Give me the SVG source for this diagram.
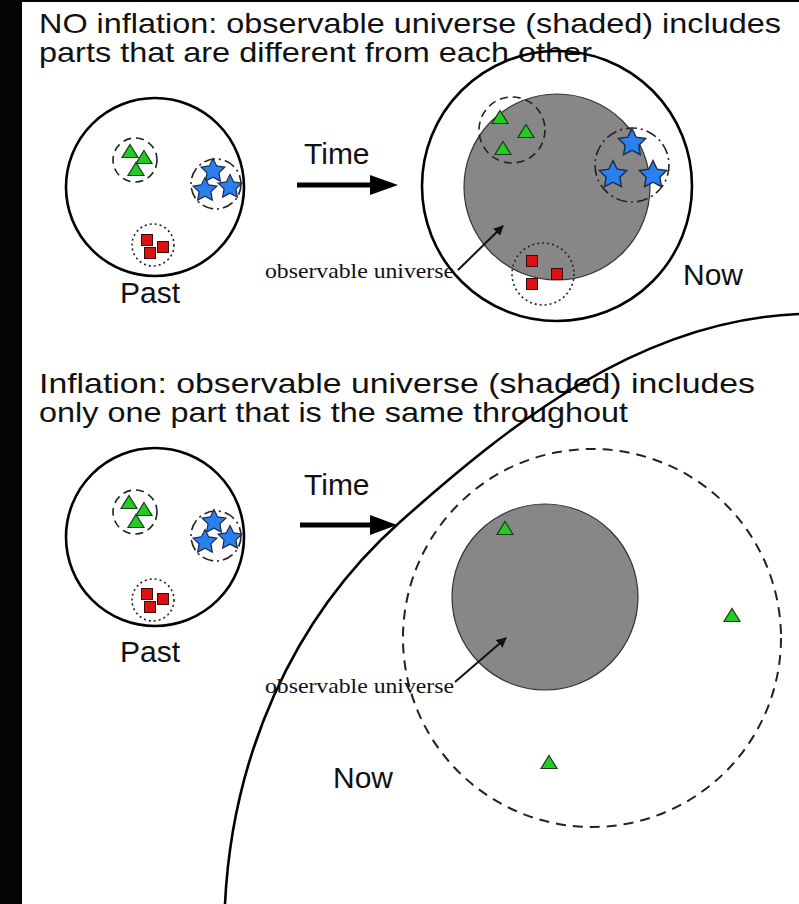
<svg xmlns="http://www.w3.org/2000/svg" width="799" height="904" viewBox="0 0 799 904">
<style>
.title{font-family:"Liberation Sans",Arial,sans-serif;font-size:28px;fill:#111}
.lbl{font-family:"Liberation Sans",Arial,sans-serif;font-size:30px;fill:#111}
.obs{font-family:"Liberation Serif","Times New Roman",serif;font-size:22px;fill:#111}
.big{fill:none;stroke:#000;stroke-width:2.6}
.gdash{fill:none;stroke:#222;stroke-width:1.6;stroke-dasharray:8 5}
.bdash{fill:none;stroke:#222;stroke-width:1.6;stroke-dasharray:11 4 2 4}
.rdot{fill:none;stroke:#222;stroke-width:1.6;stroke-dasharray:2 3}
.ldash{fill:none;stroke:#222;stroke-width:2;stroke-dasharray:10 7}
.disk{fill:#878787;stroke:#333;stroke-width:1.2}
.tri{fill:#22cc22;stroke:#1a3a1a;stroke-width:1.2}
.star{fill:#2a80f0;stroke:#1a2a44;stroke-width:1.2}
.sq{fill:#dd1111;stroke:#3a0a0a;stroke-width:1}
.thick{stroke:#000;stroke-width:5;fill:none}
.thin{stroke:#111;stroke-width:2;fill:none}
</style>
<defs>
<path id="tri" d="M0,-7.5 L8,5.5 L-8,5.5 Z"/>
<path id="star" d="M0,-12.5 L3.67,-5.05 L11.89,-3.86 L5.94,1.93 L7.35,10.11 L0,6.25 L-7.35,10.11 L-5.94,1.93 L-11.89,-3.86 L-3.67,-5.05 Z"/>
<rect id="sq" x="-5.5" y="-5.5" width="11" height="11"/>
<marker id="ah" viewBox="0 0 10 10" refX="9" refY="5" markerWidth="5" markerHeight="5" orient="auto" markerUnits="strokeWidth">
<path d="M0,0 L10,5 L0,10 Z" fill="#111"/>
</marker>
</defs>
<rect x="0" y="0" width="799" height="904" fill="#fff"/>
<rect x="0" y="0" width="22" height="904" fill="#050505"/>
<rect x="0" y="0" width="799" height="2" fill="#050505"/>

<g id="title-top">
<text class="title" x="39" y="33" textLength="742" lengthAdjust="spacingAndGlyphs">NO inflation: observable universe (shaded) includes</text>
<text class="title" x="39" y="62" textLength="553" lengthAdjust="spacingAndGlyphs">parts that are different from each other</text>
</g>

<g id="past-top">
<circle class="big" cx="155" cy="187" r="89"/>
<circle class="gdash" cx="135" cy="160" r="22"/>
<use href="#tri" class="tri" x="130" y="152"/>
<use href="#tri" class="tri" x="144" y="158"/>
<use href="#tri" class="tri" x="136" y="170"/>
<circle class="bdash" cx="216" cy="184" r="25"/>
<use href="#star" class="star" x="213" y="171"/>
<use href="#star" class="star" x="205" y="190"/>
<use href="#star" class="star" x="230" y="187"/>
<circle class="rdot" cx="153" cy="245" r="21"/>
<use href="#sq" class="sq" x="147" y="240"/>
<use href="#sq" class="sq" x="163" y="247"/>
<use href="#sq" class="sq" x="150" y="253"/>
<text class="lbl" x="150" y="303" text-anchor="middle">Past</text>
</g>

<g id="time-top">
<text class="lbl" x="304" y="164">Time</text>
<line class="thick" x1="297" y1="185" x2="376" y2="185"/>
<path d="M370,175 L398,185 L370,195 Z" fill="#000"/>
</g>

<g id="now-top">
<circle class="big" cx="557" cy="186" r="135"/>
<circle class="disk" cx="557" cy="187" r="93"/>
<circle class="gdash" cx="512" cy="130" r="33"/>
<use href="#tri" class="tri" x="500" y="118"/>
<use href="#tri" class="tri" x="526" y="132"/>
<use href="#tri" class="tri" x="503" y="149"/>
<circle class="bdash" cx="632" cy="165" r="37"/>
<use href="#star" class="star" transform="translate(632,143) scale(1.15)"/>
<use href="#star" class="star" transform="translate(613,175) scale(1.15)"/>
<use href="#star" class="star" transform="translate(653,175) scale(1.15)"/>
<circle class="rdot" cx="543" cy="274" r="31"/>
<use href="#sq" class="sq" x="532" y="261"/>
<use href="#sq" class="sq" x="557" y="274"/>
<use href="#sq" class="sq" x="532" y="284"/>
<text class="obs" x="265" y="278" textLength="189" lengthAdjust="spacingAndGlyphs">observable universe</text>
<text class="lbl" x="683" y="285">Now</text>
</g>

<g id="title-bottom">
<text class="title" x="39" y="393" textLength="716" lengthAdjust="spacingAndGlyphs">Inflation: observable universe (shaded) includes</text>
<text class="title" x="39" y="422" textLength="589" lengthAdjust="spacingAndGlyphs">only one part that is the same throughout</text>
</g>

<g id="past-bottom">
<circle class="big" cx="155" cy="537" r="89"/>
<circle class="gdash" cx="135" cy="512" r="22"/>
<use href="#tri" class="tri" x="129" y="503"/>
<use href="#tri" class="tri" x="144" y="510"/>
<use href="#tri" class="tri" x="136" y="522"/>
<circle class="bdash" cx="216" cy="536" r="25"/>
<use href="#star" class="star" x="214" y="522"/>
<use href="#star" class="star" x="205" y="542"/>
<use href="#star" class="star" x="230" y="538"/>
<circle class="rdot" cx="153" cy="600" r="21"/>
<use href="#sq" class="sq" x="147" y="594"/>
<use href="#sq" class="sq" x="163" y="599"/>
<use href="#sq" class="sq" x="150" y="607"/>
<text class="lbl" x="150" y="662" text-anchor="middle">Past</text>
</g>

<g id="time-bottom">
<text class="lbl" x="304" y="495">Time</text>
<line class="thick" x1="300" y1="525" x2="376" y2="525"/>
<path d="M370,515 L397,525 L370,535 Z" fill="#000"/>
</g>

<g id="now-bottom">
<path class="big" d="M225,904 C232,760 290,620 400,522 S 640,320 799,314"/>
<circle class="ldash" cx="592" cy="638" r="189"/>
<circle class="disk" cx="545" cy="597" r="93"/>
<use href="#tri" class="tri" x="505" y="529"/>
<use href="#tri" class="tri" x="732" y="616"/>
<use href="#tri" class="tri" x="549" y="763"/>
<text class="obs" x="265" y="693" textLength="189" lengthAdjust="spacingAndGlyphs">observable universe</text>
<text class="lbl" x="333" y="788">Now</text>
</g>

<g id="connectors">
<line class="thin" x1="458" y1="270" x2="503" y2="226" marker-end="url(#ah)"/>
<line class="thin" x1="455" y1="682" x2="506" y2="638" marker-end="url(#ah)"/>
</g>
</svg>
